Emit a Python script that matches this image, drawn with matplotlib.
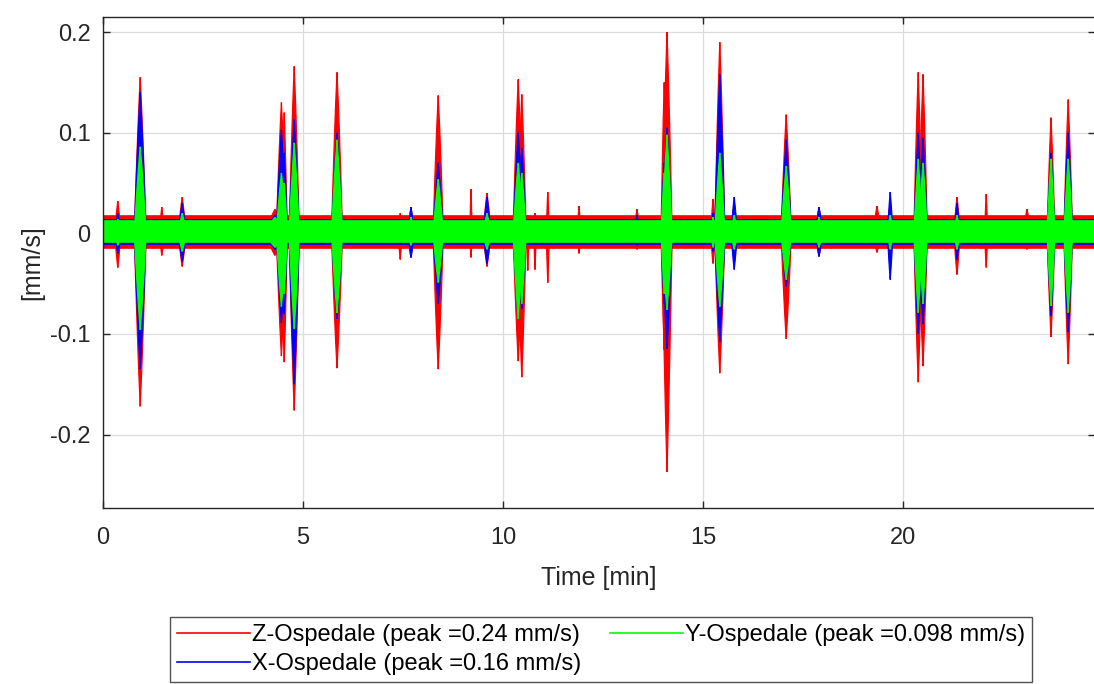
import numpy as np
import matplotlib
matplotlib.use("Agg")
from matplotlib import pyplot as plt

plt.rcParams['font.family'] = ['Liberation Sans', 'DejaVu Sans']
plt.rcParams['axes.unicode_minus'] = False

# recording length [min]
t_end = 24.8

# background noise band (upper, lower) in mm/s
z_base = (0.017, -0.015)
x_base = (0.013, -0.011)
y_base = (0.012, -0.009)

# transit events: centre time [min], half duration [min]
event_t = [0.37, 0.93, 1.47, 1.98, 4.30, 4.46, 4.53, 4.78, 5.85, 7.43,
           7.70, 8.38, 9.20, 9.60, 10.38, 10.47, 10.62, 10.80, 11.12, 11.90,
           13.35, 14.03, 14.10, 15.25, 15.42, 15.78, 17.08, 17.90, 19.35, 19.68,
           20.38, 20.50, 21.35, 22.08, 23.10, 23.70, 24.13]
event_w = [0.08, 0.15, 0.06, 0.10, 0.25, 0.13, 0.08, 0.13, 0.14, 0.05,
           0.08, 0.13, 0.03, 0.10, 0.13, 0.11, 0.03, 0.03, 0.04, 0.05,
           0.08, 0.08, 0.13, 0.06, 0.13, 0.08, 0.13, 0.09, 0.10, 0.07,
           0.11, 0.11, 0.08, 0.04, 0.10, 0.10, 0.11]

# event peaks per channel (positive / negative) in mm/s
z_up = [0.032, 0.155, 0.026, 0.036, 0.024, 0.130, 0.120, 0.166, 0.160, 0.020,
        0.026, 0.137, 0.044, 0.040, 0.153, 0.138, 0.018, 0.020, 0.041, 0.027,
        0.024, 0.150, 0.200, 0.034, 0.190, 0.030, 0.118, 0.026, 0.027, 0.030,
        0.160, 0.158, 0.036, 0.039, 0.024, 0.115, 0.133]
z_dn = [-0.034, -0.172, -0.022, -0.033, -0.022, -0.122, -0.128, -0.176, -0.134, -0.026,
        -0.024, -0.135, -0.024, -0.033, -0.127, -0.143, -0.037, -0.036, -0.049, -0.020,
        -0.016, -0.116, -0.237, -0.030, -0.139, -0.028, -0.105, -0.023, -0.019, -0.030,
        -0.148, -0.132, -0.041, -0.034, -0.016, -0.103, -0.130]
x_up = [0.020, 0.140, 0.0, 0.030, 0.018, 0.103, 0.080, 0.113, 0.100, 0.0,
        0.026, 0.070, 0.0, 0.036, 0.100, 0.085, 0.0, 0.0, 0.0, 0.0,
        0.018, 0.070, 0.105, 0.020, 0.158, 0.036, 0.093, 0.026, 0.0, 0.041,
        0.100, 0.095, 0.030, 0.0, 0.0, 0.080, 0.100]
x_dn = [-0.020, -0.135, 0.0, -0.028, -0.016, -0.089, -0.080, -0.150, -0.085, 0.0,
        -0.024, -0.070, 0.0, -0.030, -0.085, -0.075, 0.0, 0.0, 0.0, 0.0,
        -0.012, -0.070, -0.115, -0.018, -0.108, -0.036, -0.053, -0.023, 0.0, -0.046,
        -0.100, -0.090, -0.026, 0.0, 0.0, -0.082, -0.098]
y_up = [0.014, 0.086, 0.0, 0.020, 0.016, 0.060, 0.050, 0.090, 0.093, 0.0,
        0.016, 0.054, 0.0, 0.020, 0.070, 0.060, 0.0, 0.0, 0.0, 0.0,
        0.0, 0.060, 0.098, 0.016, 0.080, 0.018, 0.067, 0.016, 0.0, 0.018,
        0.074, 0.070, 0.018, 0.0, 0.0, 0.074, 0.074]
y_dn = [-0.012, -0.096, 0.0, -0.018, -0.014, -0.073, -0.060, -0.095, -0.079, 0.0,
        -0.012, -0.049, 0.0, -0.016, -0.085, -0.070, 0.0, 0.0, 0.0, 0.0,
        0.0, -0.060, -0.076, -0.014, -0.073, -0.016, -0.046, -0.014, 0.0, -0.016,
        -0.079, -0.070, -0.016, 0.0, 0.0, -0.072, -0.079]

# spindle outline of a single transit (relative time, relative amplitude)
shape_dt = np.array([-1.0, -0.6, -0.3, -0.1, 0.0, 0.1, 0.3, 0.6, 1.0])
shape_a = np.array([0.0, 0.45, 0.75, 0.92, 1.0, 0.92, 0.75, 0.45, 0.0])


def draw_channel(ax, base, up, dn, color, label):
    ax.fill_between([0, t_end], base[1], base[0], color=color, lw=1.2, label=label)
    for t, w, a, b in zip(event_t, event_w, up, dn):
        if a == 0 and b == 0:
            continue
        xs = np.concatenate([t + shape_dt * w, (t + shape_dt * w)[::-1]])
        ys = np.concatenate([shape_a * a, (shape_a * b)[::-1]])
        ax.fill(xs, ys, color=color, lw=0.9)


def peak(up, dn, base):
    return max(max(up), -min(dn), base[0], -base[1])


fig = plt.figure(figsize=(10.94, 6.84), dpi=100)
ax = fig.add_axes([103 / 1094, 1 - 508 / 684, 992 / 1094, 491 / 684])

draw_channel(ax, z_base, z_up, z_dn, (1, 0, 0),
             'Z-Ospedale (peak =%.2g mm/s)' % peak(z_up, z_dn, z_base))
draw_channel(ax, x_base, x_up, x_dn, (0, 0, 1),
             'X-Ospedale (peak =%.2g mm/s)' % peak(x_up, x_dn, x_base))
draw_channel(ax, y_base, y_up, y_dn, (0, 1, 0),
             'Y-Ospedale (peak =%.2g mm/s)' % peak(y_up, y_dn, y_base))

ax.set_xlim(0, t_end)
ax.set_ylim(-0.273, 0.215)
ax.set_xticks([0, 5, 10, 15, 20])
ax.set_yticks([-0.2, -0.1, 0, 0.1, 0.2])
ax.set_yticklabels(['-0.2', '-0.1', '0', '0.1', '0.2'])
ax.grid(True, color='#dcdcdc', lw=0.9)
ax.set_axisbelow(True)
ax.tick_params(direction='in', length=5, width=1, colors='#262626',
               labelsize=17, top=True, right=True)
ax.tick_params(axis='x', pad=14)
ax.tick_params(axis='y', pad=9)
for s in ax.spines.values():
    s.set_color('#262626')
    s.set_linewidth(1.0)

ax.set_xlabel('Time [min]', fontsize=18, color='#262626', labelpad=12)
ax.set_ylabel('[mm/s]', fontsize=18, color='#262626', labelpad=4)

handles, labels = ax.get_legend_handles_labels()
lines = [plt.Line2D([], [], color=h.get_facecolor()[0], lw=1.2) for h in handles]
leg = fig.legend(lines, labels, ncol=2, loc='upper center',
                 bbox_to_anchor=(601 / 1094, 1 - 617 / 684), fontsize=17,
                 frameon=True, fancybox=False, edgecolor='#262626',
                 handlelength=3.1, handletextpad=0.1, columnspacing=1.2,
                 borderpad=0.3, labelspacing=0.3, borderaxespad=0)
leg.get_frame().set_linewidth(1.0)

fig.savefig('out.png', dpi=100)
